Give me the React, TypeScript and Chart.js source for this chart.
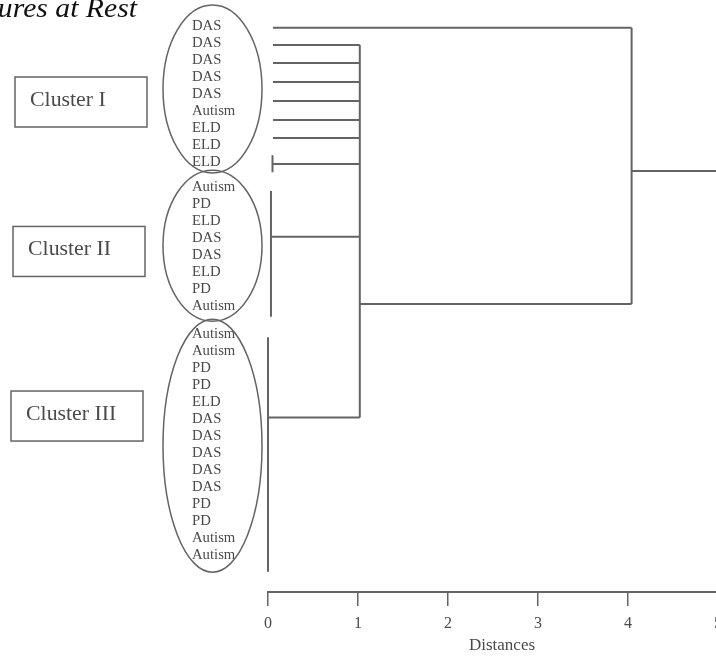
import React, { useEffect, useRef } from "react";
import { Chart, registerables } from "chart.js";

Chart.register(...registerables);

// ---------- data ----------
const clusterNames = ["Cluster I", "Cluster II", "Cluster III"];
const clusterILabels = ["DAS", "DAS", "DAS", "DAS", "DAS", "Autism", "ELD", "ELD", "ELD"];
const clusterIILabels = ["Autism", "PD", "ELD", "DAS", "DAS", "ELD", "PD", "Autism"];
const clusterIIILabels = ["Autism", "Autism", "PD", "PD", "ELD", "DAS", "DAS", "DAS", "DAS", "DAS", "PD", "PD", "Autism", "Autism"];
const xTickValues = [0, 1, 2, 3, 4, 5];

// dendrogram (rows = leaf order units, distances = x axis)
const clusterIBranchRows = [0.1, 1.12, 2.18, 3.29, 4.41, 5.53, 6.59, 8.12];
const clusterIBranchJoins = [4.04, 1.02, 1.02, 1.02, 1.02, 1.02, 1.02, 1.02];
const clusterIBranchStart = 0.055;
const eldPairDist = 0.05;
const eldPairRows = [7.6, 8.6];
const subClusterMergeDist = [0.033, 0.0]; // clusters II, III
const subClusterSpanRows = [[9.7, 17.1], [18.3, 32.1]];
const subClusterJoinRows = [12.4, 23.03];
const innerJoinDist = 1.02;
const innerJoinSpan = [1.12, 23.03];
const outerLinkRow = 16.35;
const rootJoinDist = 4.04;
const rootJoinSpan = [0.1, 16.35];
const rootRow = 8.53;
const rootEnd = 5.2;

// ---------- layout ----------
const CLUSTER_ROW_OFFSET = [-0.06, 9.42, 18.07];
const CLUSTER_BOX_ROW = [4.47, 13.26, 22.94];
const ELLIPSE_SHIFT = [-4, 0, 2];
const SERIF = '"Liberation Serif", "Times New Roman", serif';
const LINE = "#646464";
const TEXT = "#4a4a4a";

type Seg = [number, number, number, number];

function buildSegments(): Seg[] {
  const s: Seg[] = [];
  clusterIBranchRows.forEach((r, i) => s.push([clusterIBranchStart, r, clusterIBranchJoins[i], r]));
  s.push([eldPairDist, eldPairRows[0], eldPairDist, eldPairRows[1]]);
  subClusterMergeDist.forEach((d, i) => {
    s.push([d, subClusterSpanRows[i][0], d, subClusterSpanRows[i][1]]);
    s.push([d, subClusterJoinRows[i], innerJoinDist, subClusterJoinRows[i]]);
  });
  s.push([innerJoinDist, innerJoinSpan[0], innerJoinDist, innerJoinSpan[1]]);
  s.push([innerJoinDist, outerLinkRow, rootJoinDist, outerLinkRow]);
  s.push([rootJoinDist, rootJoinSpan[0], rootJoinDist, rootJoinSpan[1]]);
  s.push([rootJoinDist, rootRow, rootEnd, rootRow]);
  return s;
}

function drawText(ctx: CanvasRenderingContext2D, text: string, x: number, y: number, font: string, color: string, sx: number, align: CanvasTextAlign, baseline: CanvasTextBaseline) {
  ctx.save();
  ctx.font = font;
  ctx.fillStyle = color;
  ctx.textAlign = align;
  ctx.textBaseline = baseline;
  ctx.translate(x, y);
  ctx.scale(sx, 1);
  ctx.fillText(text, 0, 0);
  ctx.restore();
}

const decorPlugin = {
  id: "decor",
  afterDatasetsDraw(chart: any) {
    const ctx: CanvasRenderingContext2D = chart.ctx;
    const y = chart.scales.y;
    const groups = [clusterILabels, clusterIILabels, clusterIIILabels];
    groups.forEach((labels, gi) => {
      const off = CLUSTER_ROW_OFFSET[gi];
      labels.forEach((lab, i) => {
        const py = y.getPixelForValue(off + i);
        drawText(ctx, lab, 192, py + 1, `14px ${SERIF}`, TEXT, 1.05, "left", "middle");
      });
      const top = y.getPixelForValue(off);
      const bot = y.getPixelForValue(off + labels.length - 1);
      ctx.save();
      ctx.strokeStyle = LINE;
      ctx.lineWidth = 1.5;
      ctx.beginPath();
      ctx.ellipse(212.5, (top + bot) / 2 + ELLIPSE_SHIFT[gi], 49.5, (bot - top) / 2 + 16, 0, 0, Math.PI * 2);
      ctx.stroke();
      ctx.restore();
      // cluster box
      const cy = y.getPixelForValue(CLUSTER_BOX_ROW[gi]);
      const bx = 15 - gi * 2;
      ctx.save();
      ctx.strokeStyle = LINE;
      ctx.lineWidth = 1.5;
      ctx.strokeRect(bx, cy - 25, 132, 50);
      ctx.restore();
      drawText(ctx, clusterNames[gi], bx + 15, cy + 3.5, `21px ${SERIF}`, TEXT, 1.04, "left", "alphabetic");
    });
    drawText(ctx, "ures at Rest", 137, 17, `italic 27px ${SERIF}`, "#111", 1.1, "right", "alphabetic");
  },
};

export default function App() {
  const ref = useRef<HTMLCanvasElement>(null);
  useEffect(() => {
    if (!ref.current) return;
    const segs = buildSegments();
    const chart = new Chart(ref.current, {
      type: "scatter",
      data: {
        datasets: segs.map((s) => ({
          data: [{ x: s[0], y: s[1] }, { x: s[2], y: s[3] }],
          showLine: true,
          borderColor: LINE,
          borderWidth: 2,
          pointRadius: 0,
          clip: false as any,
        })),
      },
      options: {
        animation: false,
        responsive: false,
        events: [],
        layout: { padding: { left: 268, right: 24, top: 0, bottom: 0 } },
        plugins: { legend: { display: false }, tooltip: { enabled: false } },
        scales: {
          x: {
            type: "linear",
            min: 0,
            max: rootEnd,
            afterBuildTicks: (s: any) => {
              s.ticks = xTickValues.map((v) => ({ value: v }));
            },
            afterFit: (s: any) => {
              s.height = 66;
            },
            grid: { drawOnChartArea: false, drawTicks: true, tickLength: 14, color: LINE, lineWidth: 1.5 },
            border: { display: true, color: LINE, width: 2 },
            ticks: { color: TEXT, font: { family: SERIF, size: 16 }, padding: 8, maxRotation: 0 },
            title: { display: true, text: "Distances", color: TEXT, font: { family: SERIF, size: 17 }, padding: { top: 0, bottom: 2 } },
          },
          y: {
            type: "linear",
            display: false,
            reverse: true,
            min: -1.53,
            max: 33.29,
          },
        },
      },
      plugins: [decorPlugin],
    });
    return () => chart.destroy();
  }, []);
  return (
    <div style={{ position: "fixed", left: 0, top: 0, width: 716, height: 658, overflow: "hidden", background: "#fff" }}>
      <canvas ref={ref} width={760} height={658} style={{ display: "block" }} />
    </div>
  );
}
